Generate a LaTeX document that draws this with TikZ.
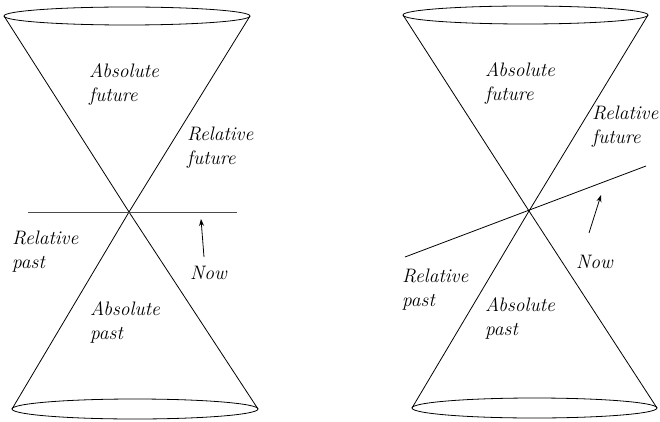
\documentclass[tikz,border=0pt]{standalone}
\usepackage{tikz}
\usetikzlibrary{positioning,arrows.meta,calc}
\tikzset{
  cone/.style  ={draw, line width=0.8pt},
  rim/.style   ={draw, line width=0.8pt},
  nowln/.style ={draw, line width=0.8pt},
  lbl/.style   ={align=left, anchor=north west, inner sep=0pt, font=\fontsize{19.5}{24}\selectfont\itshape},
  arr/.style   ={-{Stealth[length=7pt,width=5pt]}, line width=0.8pt},
}

\begin{document}
\begin{tikzpicture}[x=1pt, y=-1pt]
  \useasboundingbox (0,0) rectangle (660,422);

  % left cone, horizontal now
  \coordinate (LA) at (129,212);
  \coordinate (LTl) at (4,16);   \coordinate (LTr) at (250,16);
  \coordinate (LBl) at (12,409); \coordinate (LBr) at (258,409);
  \draw[rim] (127,16) ellipse [x radius=123, y radius=9];
  \draw[rim] (135,409) ellipse [x radius=123, y radius=10];
  \draw[cone] (LTl) -- (LA) -- (LBr);
  \draw[cone] (LTr) -- (LA) -- (LBl);
  \coordinate (LNa) at (28,212); \coordinate (LNb) at (237,212);
  \draw[nowln, black!70] (LNa) -- (LNb);

  \node[lbl] (lfut)  at (89,63)  {Absolute\\future};
  \node[lbl] (lrfut) at (187,127) {Relative\\future};
  \node[lbl] (lrpst) at (12,231) {Relative\\past};
  \node[lbl] (lpst)  at (90,301) {Absolute\\past};
  \node[lbl] (lnow)  at (190,266) {Now};
  \coordinate (lnowt) at (204,257); \coordinate (lnowh) at (201,219);
  \draw[arr] (lnowt) -- (lnowh);

  % right cone, tilted now
  \coordinate (RA) at (529,211);
  \coordinate (RTl) at (403,15);  \coordinate (RTr) at (648,15);
  \coordinate (RBl) at (412,408); \coordinate (RBr) at (657,408);
  \draw[rim] (525.5,15) ellipse [x radius=122.5, y radius=9];
  \draw[rim] (534.5,408) ellipse [x radius=122.5, y radius=10];
  \draw[cone] (RTl) -- (RA) -- (RBr);
  \draw[cone] (RTr) -- (RA) -- (RBl);
  \coordinate (RNa) at (405,257); \coordinate (RNb) at (646,166);
  \draw[nowln] (RNa) -- (RNb);

  \node[lbl] (rfut)  at (485,62)  {Absolute\\future};
  \node[lbl] (rrfut) at (592,106) {Relative\\future};
  \node[lbl] (rrpst) at (402,269) {Relative\\past};
  \node[lbl] (rpst)  at (485,297) {Absolute\\past};
  \node[lbl] (rnow)  at (576,255) {Now};
  \coordinate (rnowt) at (589,233); \coordinate (rnowh) at (601,195);
  \draw[arr] (rnowt) -- (rnowh);
\end{tikzpicture}
\end{document}
